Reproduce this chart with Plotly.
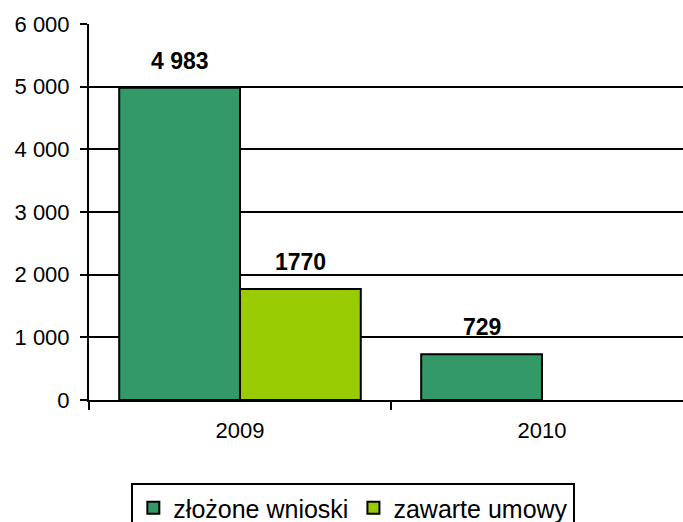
import plotly.graph_objects as go

lata = ["2009", "2010"]
zlozone_wnioski = [4983, 729]
zawarte_umowy = [1770, None]
etykiety_wnioski = ["4 983", "729"]
etykiety_umowy = ["1770", ""]

kolor_wnioski = "#339966"
kolor_umowy = "#99CC00"
czcionka = "Liberation Sans, Arial, sans-serif"
bargap = 0.2

fig = go.Figure()
fig.add_trace(go.Bar(
    x=lata, y=zlozone_wnioski, name="złożone wnioski",
    marker=dict(color=kolor_wnioski, line=dict(color="black", width=2)),
))
fig.add_trace(go.Bar(
    x=lata, y=zawarte_umowy, name="zawarte umowy",
    marker=dict(color=kolor_umowy, line=dict(color="black", width=2)),
))

# etykiety nad słupkami (pozycja wyliczona z układu grupowanych słupków)
szer = (1 - bargap) / 2
for seria, etykiety, przes in [
    (zlozone_wnioski, etykiety_wnioski, -szer / 2),
    (zawarte_umowy, etykiety_umowy, szer / 2),
]:
    for i, (v, t) in enumerate(zip(seria, etykiety)):
        if v is None or not t:
            continue
        fig.add_annotation(
            x=i + przes, y=v, xref="x", yref="y", text=f"<b>{t}</b>",
            showarrow=False, yanchor="middle", yshift=27,
            font=dict(size=23, color="black", family=czcionka),
        )

fig.update_layout(
    width=683, height=522,
    margin=dict(l=89, r=0, t=24, b=122, autoexpand=False),
    plot_bgcolor="white", paper_bgcolor="white",
    barmode="group", bargap=bargap, bargroupgap=0,
    separators=", ",
    font=dict(family=czcionka, size=22, color="black"),
    showlegend=True,
    legend=dict(
        orientation="h", x=0.445, xanchor="center", y=-0.221, yanchor="top",
        bordercolor="black", borderwidth=2, font=dict(size=25),
        itemwidth=30, tracegroupgap=0,
    ),
)
fig.update_xaxes(
    type="category", range=[-0.5, 1.467],
    showline=True, linecolor="black", linewidth=2,
    ticks="outside", tickson="boundaries", ticklen=8, tickwidth=1.5, tickcolor="black",
    showgrid=False, ticklabelstandoff=10,
)
fig.update_yaxes(
    range=[0, 6000], dtick=1000, tickformat=",d",
    showline=True, linecolor="black", linewidth=2,
    showgrid=True, gridcolor="black", gridwidth=2,
    ticks="outside", ticklen=7, tickwidth=2, tickcolor="black",
    ticklabelstandoff=6, zeroline=False,
)

fig.write_html(
    "out.html",
    config={"displayModeBar": False},
    post_script="document.body.style.margin='0';",
)
